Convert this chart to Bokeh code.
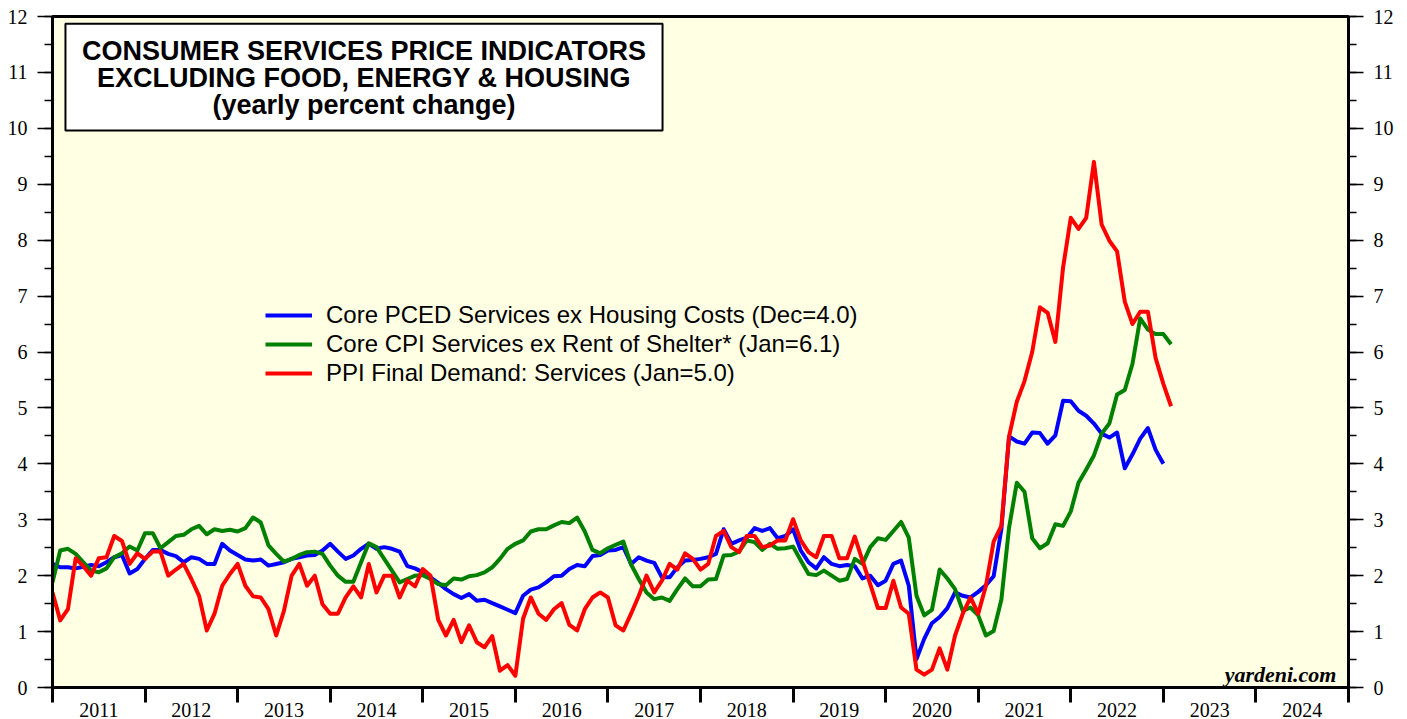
from bokeh.plotting import figure
from bokeh.models import FixedTicker, LinearAxis, Legend, LegendItem, Label, BoxAnnotation, Range1d
from bokeh.embed import file_html
from bokeh.resources import INLINE

# ---- data (monthly, first point Jan 2011) ----
years = list(range(2011, 2025))
year_labels = [str(y) for y in years]
y_ticks = list(range(0, 13))

pced = [2.21, 2.15, 2.15, 2.13, 2.16, 2.19, 2.17, 2.24, 2.33, 2.37, 2.04, 2.12,
        2.30, 2.46, 2.46, 2.39, 2.35, 2.24, 2.33, 2.30, 2.21, 2.21, 2.57, 2.45,
        2.37, 2.29, 2.27, 2.29, 2.18, 2.21, 2.24, 2.30, 2.33, 2.36, 2.37, 2.45,
        2.57, 2.43, 2.30, 2.36, 2.48, 2.57, 2.48, 2.51, 2.48, 2.43, 2.17, 2.13,
        2.06, 1.97, 1.87, 1.76, 1.67, 1.60, 1.67, 1.55, 1.57, 1.51, 1.45, 1.39,
        1.33, 1.64, 1.75, 1.79, 1.88, 1.99, 2.00, 2.12, 2.19, 2.17, 2.35, 2.37,
        2.45, 2.46, 2.51, 2.21, 2.33, 2.27, 2.23, 1.97, 1.97, 2.15, 2.27, 2.28,
        2.30, 2.33, 2.39, 2.83, 2.57, 2.63, 2.68, 2.85, 2.80, 2.85, 2.67, 2.71,
        2.83, 2.45, 2.24, 2.13, 2.33, 2.21, 2.17, 2.19, 2.17, 1.95, 2.00, 1.83,
        1.91, 2.21, 2.27, 1.82, 0.51, 0.87, 1.15, 1.26, 1.42, 1.70, 1.64, 1.61,
        1.71, 1.83, 1.99, 2.83, 4.49, 4.40, 4.36, 4.56, 4.55, 4.36, 4.51, 5.13,
        5.12, 4.95, 4.86, 4.72, 4.54, 4.47, 4.56, 3.92, 4.17, 4.45, 4.64, 4.25,
        4.00]

cpi = [1.88, 2.45, 2.48, 2.39, 2.24, 2.09, 2.06, 2.13, 2.33, 2.40, 2.52, 2.45,
       2.76, 2.76, 2.49, 2.60, 2.71, 2.73, 2.83, 2.89, 2.74, 2.83, 2.80, 2.82,
       2.79, 2.85, 3.04, 2.95, 2.54, 2.39, 2.25, 2.30, 2.37, 2.42, 2.43, 2.39,
       2.18, 2.00, 1.89, 1.89, 2.24, 2.58, 2.51, 2.30, 2.09, 1.88, 1.94, 2.00,
       2.01, 1.94, 1.85, 1.83, 1.95, 1.93, 1.99, 2.01, 2.06, 2.15, 2.30, 2.48,
       2.57, 2.63, 2.79, 2.83, 2.83, 2.90, 2.96, 2.94, 3.04, 2.79, 2.46, 2.40,
       2.49, 2.55, 2.61, 2.20, 1.94, 1.70, 1.58, 1.61, 1.55, 1.76, 1.95, 1.81,
       1.81, 1.93, 1.94, 2.36, 2.37, 2.43, 2.63, 2.60, 2.46, 2.57, 2.48, 2.49,
       2.52, 2.27, 2.03, 2.01, 2.09, 2.00, 1.91, 1.94, 2.30, 2.21, 2.51, 2.67,
       2.64, 2.80, 2.96, 2.68, 1.64, 1.29, 1.39, 2.11, 1.95, 1.76, 1.37, 1.43,
       1.29, 0.93, 1.01, 1.57, 2.86, 3.66, 3.50, 2.67, 2.49, 2.58, 2.92, 2.89,
       3.15, 3.66, 3.90, 4.15, 4.54, 4.72, 5.24, 5.32, 5.79, 6.60, 6.40, 6.32,
       6.32, 6.14]

ppi = [1.70, 1.20, 1.40, 2.31, 2.17, 2.00, 2.31, 2.33, 2.71, 2.62, 2.21, 2.40,
       2.30, 2.43, 2.43, 2.00, 2.11, 2.21, 1.94, 1.64, 1.02, 1.32, 1.82, 2.03,
       2.21, 1.82, 1.63, 1.61, 1.40, 0.93, 1.37, 2.00, 2.21, 1.82, 2.00, 1.49,
       1.32, 1.32, 1.61, 1.81, 1.61, 2.21, 1.70, 2.00, 2.00, 1.61, 1.91, 1.81,
       2.12, 2.00, 1.21, 0.93, 1.21, 0.81, 1.11, 0.81, 0.72, 0.92, 0.30, 0.40,
       0.21, 1.23, 1.61, 1.32, 1.21, 1.40, 1.51, 1.12, 1.02, 1.40, 1.61, 1.70,
       1.61, 1.11, 1.02, 1.32, 1.64, 2.00, 1.70, 1.91, 2.21, 2.11, 2.40, 2.30,
       2.11, 2.21, 2.71, 2.80, 2.51, 2.42, 2.71, 2.71, 2.51, 2.54, 2.63, 2.63,
       3.01, 2.63, 2.42, 2.33, 2.71, 2.71, 2.31, 2.31, 2.70, 2.27, 1.85, 1.42,
       1.42, 1.91, 1.43, 1.32, 0.32, 0.23, 0.32, 0.70, 0.32, 0.93, 1.32, 1.61,
       1.32, 1.82, 2.61, 2.89, 4.49, 5.11, 5.48, 6.00, 6.80, 6.70, 6.18, 7.51,
       8.40, 8.20, 8.40, 9.40, 8.28, 7.99, 7.80, 6.90, 6.50, 6.72, 6.72, 5.89,
       5.43, 5.03]

series_names = ["Core PCED Services ex Housing Costs (Dec=4.0)",
                "Core CPI Services ex Rent of Shelter* (Jan=6.1)",
                "PPI Final Demand: Services (Jan=5.0)"]
series_colors = ["#0000FF", "#008000", "#FF0000"]
title_lines = ["CONSUMER SERVICES PRICE INDICATORS",
               "EXCLUDING FOOD, ENERGY & HOUSING",
               "(yearly percent change)"]


def months(n):
    return [2011 + i / 12.0 for i in range(n)]


p = figure(width=1400, height=719, output_backend="svg", toolbar_location=None,
           x_range=Range1d(2011, 2025), y_range=Range1d(0, 12),
           min_border_left=52, min_border_right=52, min_border_top=16, min_border_bottom=31)
p.background_fill_color = "#FFFFE3"
p.border_fill_color = "white"
p.xgrid.visible = False
p.ygrid.visible = False
p.outline_line_color = "black"
p.outline_line_width = 3

# bottom axis: labels centred in each year, ticks at year boundaries
xa = p.xaxis[0]
xa.ticker = FixedTicker(ticks=[y + 0.5 for y in years], minor_ticks=years + [2025])
xa.major_label_overrides = {y + 0.5: lab for y, lab in zip(years, year_labels)}
xa.major_tick_out = 0
xa.major_tick_in = 0
xa.minor_tick_out = 15
xa.minor_tick_in = 0
xa.minor_tick_line_width = 3
xa.minor_tick_line_color = "black"
xa.axis_line_width = 3
xa.axis_line_color = "black"
xa.major_label_standoff = 0
xa.major_label_text_font = "Liberation Serif"
xa.major_label_text_font_size = "20px"
xa.major_label_text_color = "black"

yticker = FixedTicker(ticks=y_ticks, minor_ticks=[t / 2 for t in range(0, 25)])


def style_y(ax):
    ax.ticker = yticker
    ax.major_tick_out = 15
    ax.major_tick_in = 0
    ax.minor_tick_out = 8
    ax.minor_tick_in = 0
    ax.major_tick_line_width = 1.5
    ax.minor_tick_line_width = 1.5
    ax.major_tick_line_color = "black"
    ax.minor_tick_line_color = "black"
    ax.axis_line_width = 3
    ax.axis_line_color = "black"
    ax.major_label_standoff = 10
    ax.major_label_text_font = "Liberation Serif"
    ax.major_label_text_font_size = "20px"
    ax.major_label_text_color = "black"


style_y(p.yaxis[0])
ra = LinearAxis()
style_y(ra)
p.add_layout(ra, "right")

renderers = []
for vals, col in zip([pced, cpi, ppi], series_colors):
    r = p.line(months(len(vals)), vals, line_color=col, line_width=4, line_join="round")
    renderers.append(r)

legend = Legend(items=[LegendItem(label=n, renderers=[r]) for n, r in zip(series_names, renderers)],
                location=(213, 300), orientation="vertical",
                background_fill_alpha=0, border_line_color=None,
                glyph_width=47, glyph_height=20, label_height=20, spacing=1,
                label_standoff=14, padding=10, margin=0,
                label_text_font="Liberation Sans", label_text_font_size="24px",
                label_text_color="black")
p.add_layout(legend)

box = BoxAnnotation(left=2011.14, right=2017.59, bottom=9.96, top=11.87,
                    fill_color="white", fill_alpha=1.0, line_color="black",
                    line_alpha=1.0, line_width=2)
p.add_layout(box)
for txt, yy in zip(title_lines, [11.39, 10.90, 10.42]):
    p.add_layout(Label(x=2014.365, y=yy, text=txt, text_align="center", text_baseline="middle",
                       text_font="Liberation Sans", text_font_style="bold",
                       text_font_size="27px", text_color="black"))

p.add_layout(Label(x=2024.87, y=0.24, text="yardeni.com", text_align="right",
                   text_baseline="alphabetic", text_font="Liberation Serif",
                   text_font_style="bold italic", text_font_size="22px", text_color="black"))

open("out.html", "w").write(file_html(p, INLINE))
